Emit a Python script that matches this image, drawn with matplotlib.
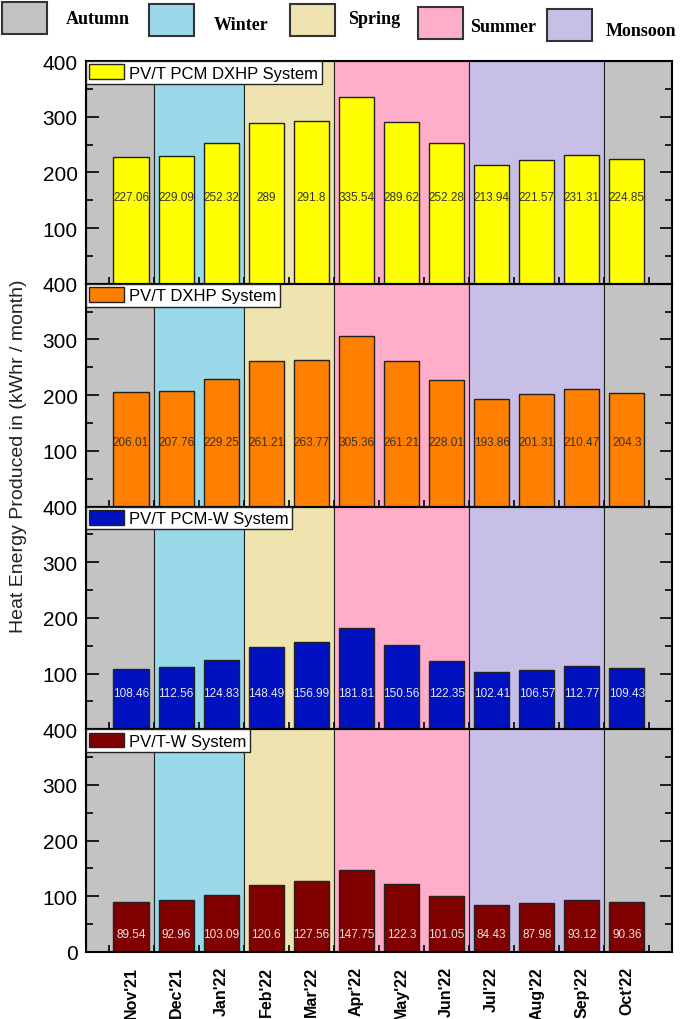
import matplotlib.pyplot as plt
from matplotlib.patches import Patch, Rectangle
from matplotlib.ticker import MultipleLocator, FixedLocator

months = ["Nov'21", "Dec'21", "Jan'22", "Feb'22", "Mar'22", "Apr'22",
          "May'22", "Jun'22", "Jul'22", "Aug'22", "Sep'22", "Oct'22"]

pcm_dxhp = [227.06, 229.09, 252.32, 289, 291.8, 335.54,
            289.62, 252.28, 213.94, 221.57, 231.31, 224.85]
dxhp = [206.01, 207.76, 229.25, 261.21, 263.77, 305.36,
        261.21, 228.01, 193.86, 201.31, 210.47, 204.3]
pcm_w = [108.46, 112.56, 124.83, 148.49, 156.99, 181.81,
         150.56, 122.35, 102.41, 106.57, 112.77, 109.43]
pvt_w = [89.54, 92.96, 103.09, 120.6, 127.56, 147.75,
         122.3, 101.05, 84.43, 87.98, 93.12, 90.36]

# season name, colour, span start, span end (in month positions)
seasons = [("Autumn", "#C3C3C3", -1.0, 0.5),
           ("Winter", "#99D9EA", 0.5, 2.5),
           ("Spring", "#EFE4B0", 2.5, 4.5),
           ("Summer", "#FFAEC9", 4.5, 7.5),
           ("Monsoon", "#C8BFE7", 7.5, 10.5),
           ("Autumn", "#C3C3C3", 10.5, 12.0)]

panels = [("PV/T PCM DXHP System", pcm_dxhp, "#FFFF00", "#333333", 155),
          ("PV/T DXHP System", dxhp, "#FF8000", "#333333", 115),
          ("PV/T PCM-W System", pcm_w, "#0012C0", "#E8E8F0", 65),
          ("PV/T-W System", pvt_w, "#800000", "#F0E0E0", 32)]

plt.rcParams['font.family'] = ['Liberation Sans', 'DejaVu Sans']

fig = plt.figure(figsize=(6.85, 10.2), dpi=100)
left, right, top, bottom = 0.1255, 0.981, 0.9392, 0.0657
h = (top - bottom) / 4
x = list(range(len(months)))

for k, (name, vals, col, tcol, ylab) in enumerate(panels):
    ax = fig.add_axes([left, top - (k + 1) * h, right - left, h])
    for sname, scol, a, b in seasons:
        ax.axvspan(a, b, facecolor=scol, edgecolor='#222222', lw=0.8, zorder=0)
    ax.bar(x, vals, width=0.78, color=col, edgecolor='#222222', lw=1.0, zorder=2)
    for xi, v in zip(x, vals):
        ax.text(xi, ylab, f"{v:g}", ha='center', va='center',
                fontsize=8.5, color=tcol, zorder=3)
    ax.set_xlim(-1.0, 12.0)
    ax.set_ylim(0, 400)
    if k < 3:
        ax.set_yticks([100, 200, 300, 400])
    else:
        ax.set_yticks([0, 100, 200, 300, 400])
    ax.yaxis.set_minor_locator(MultipleLocator(50))
    ax.set_xticks(x)
    ax.xaxis.set_minor_locator(FixedLocator([i - 0.5 for i in range(13)]))
    if k == 3:
        ax.set_xticklabels(months, rotation=90, fontsize=11.5, fontweight='bold')
    else:
        ax.set_xticklabels([])
    ax.tick_params(axis='x', which='major', length=0, pad=10)
    ax.tick_params(axis='x', which='minor', direction='in', length=5, width=1.2)
    ax.tick_params(axis='y', which='major', direction='in', length=9, width=1.2,
                   right=True, labelsize=15, pad=6)
    ax.tick_params(axis='y', which='minor', direction='in', length=5, width=1.2,
                   right=True)
    for sp in ax.spines.values():
        sp.set_linewidth(1.5)
        sp.set_zorder(5)
    leg = ax.legend(handles=[Patch(facecolor=col, edgecolor='#222222', lw=1.0)],
                    labels=[name], loc='upper left', borderaxespad=0,
                    fontsize=12, handlelength=2.1, handleheight=1.0,
                    handletextpad=0.3, borderpad=0.2, fancybox=False,
                    edgecolor='#222222', framealpha=1)
    leg.get_frame().set_linewidth(1.0)
    leg.set_zorder(6)

fig.text(0.027, 0.553, "Heat Energy Produced in (kWhr / month)", rotation=90,
         ha='center', va='center', fontsize=14, color='#222222')

# season key along the top
key = [("Autumn", "#C3C3C3", 2, 3, 66, 20),
       ("Winter", "#99D9EA", 149, 5, 214, 25),
       ("Spring", "#EFE4B0", 290, 5, 348, 20),
       ("Summer", "#FFAEC9", 418, 8, 470, 28),
       ("Monsoon", "#C8BFE7", 547, 10, 606, 31)]
W, H = 685.0, 1020.0
for sname, scol, bx, by, tx, ty in key:
    fig.patches.append(Rectangle((bx / W, 1 - (by + 32) / H), 45 / W, 32 / H,
                                 transform=fig.transFigure, facecolor=scol,
                                 edgecolor='#333333', lw=1.5))
    fig.text(tx / W, 1 - ty / H, sname, ha='left', va='center',
             family=['Liberation Serif', 'DejaVu Serif'], fontweight='bold',
             fontsize=13)

fig.savefig("out.png", dpi=100)
